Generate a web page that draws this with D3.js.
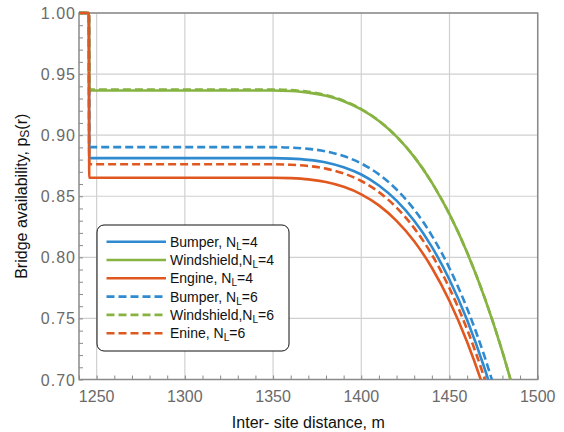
<!DOCTYPE html>
<html>
<head>
<meta charset="utf-8">
<script src="https://cdn.jsdelivr.net/npm/d3@7"></script>
<style>
body{margin:0;background:#fff}
svg{font-family:"Liberation Sans",Arial,sans-serif}
.tick-label{fill:#6a6a6a;font-size:16px}
.label{fill:#111;font-size:16px}
.leg{fill:#111;font-size:14px}
</style>
</head>
<body>
<svg id="chart"></svg>
<script>
//distances (m), the step sits just after 1245
var distance=[1240,1245.6,1245.8,1250,1300,1340,1350,1360,1370,1380,1390,1400,1410,1420,1430,1440,1450,1460,1470,1480,1490]
var bumper4=[1,1,0.8812,0.8812,0.8812,0.8812,0.8812,0.8808,0.8798,0.8777,0.8738,0.8678,0.8588,0.8464,0.8299,0.8086,0.7817,0.7487,0.7086,0.6608,null]
var windshield4=[1,1,0.9366,0.9366,0.9366,0.9366,0.9366,0.9361,0.9348,0.9322,0.9278,0.9211,0.9116,0.8988,0.8822,0.8612,0.8353,0.8039,0.7666,0.7227,0.6716]
var engine4=[1,1,0.8652,0.8652,0.8652,0.8652,0.8652,0.8648,0.8638,0.8616,0.8577,0.8516,0.8425,0.8299,0.8132,0.7915,0.7643,0.7307,0.6901,0.6416,null]
var bumper6=[1,1,0.8902,0.8902,0.8902,0.8902,0.8902,0.8898,0.8888,0.8867,0.8829,0.8768,0.8679,0.8555,0.8391,0.8178,0.7911,0.7581,0.7183,0.6706,null]
var windshield6=[1,1,0.9374,0.9374,0.9374,0.9374,0.9374,0.9369,0.9355,0.9328,0.9283,0.9214,0.9118,0.8989,0.8822,0.8612,0.8353,0.8039,0.7666,0.7227,0.6716]
var engine6=[1,1,0.8762,0.8762,0.8762,0.8762,0.8762,0.8758,0.8748,0.8726,0.8687,0.8625,0.8534,0.8407,0.8239,0.8022,0.7747,0.741,0.7002,0.6514,null]

var legendNames=["Bumper, ","Windshield,","Engine, ","Bumper, ","Windshield,","Enine, "]
var legendNL=["4","4","4","6","6","6"]
var xTicks=[1250,1300,1350,1400,1450,1500]
var yTicks=[0.70,0.75,0.80,0.85,0.90,0.95,1.00]

var blue="#2f8ad0", green="#86b341", orange="#e0581f"
var series=[
    {vals:bumper4,color:blue,dash:null},
    {vals:windshield4,color:green,dash:null},
    {vals:engine4,color:orange,dash:null},
    {vals:bumper6,color:blue,dash:"8,4"},
    {vals:windshield6,color:green,dash:"8,4"},
    {vals:engine6,color:orange,dash:"8,4"}
]

var screen={width:564,height:432}
var margins={left:79,right:26.3,top:13,bottom:52.5}
var graph={
    width:screen.width-margins.left-margins.right,
    height:screen.height-margins.top-margins.bottom
}

var svg=d3.select("#chart")
    .attr("width",screen.width)
    .attr("height",screen.height)

var xScale=d3.scaleLinear()
    .domain([1240,1500])
    .range([margins.left,margins.left+graph.width])
var yScale=d3.scaleLinear()
    .domain([0.70,1.00])
    .range([margins.top+graph.height,margins.top])

//grid
var grid=svg.append("g")
grid.selectAll(".gx")
    .data(xTicks)
    .enter()
    .append("line")
    .attr("x1",function(d){return xScale(d)})
    .attr("x2",function(d){return xScale(d)})
    .attr("y1",margins.top)
    .attr("y2",margins.top+graph.height)
    .attr("stroke","#d0d0d0")
    .attr("stroke-width",1.2)
grid.selectAll(".gy")
    .data(yTicks)
    .enter()
    .append("line")
    .attr("x1",margins.left)
    .attr("x2",margins.left+graph.width)
    .attr("y1",function(d){return yScale(d)})
    .attr("y2",function(d){return yScale(d)})
    .attr("stroke","#d0d0d0")
    .attr("stroke-width",1.2)

//axes with inward ticks
var xMinor=d3.range(1240,1501,10)
var yMinor=d3.range(70,101,1).map(function(d){return d/100})
var xAxis=d3.axisBottom(xScale).tickValues(xMinor).tickSize(-4).tickFormat("")
var yAxis=d3.axisLeft(yScale).tickValues(yMinor).tickSize(-4).tickFormat("")
var axes=svg.append("g")
axes.append("g")
    .attr("transform","translate(0,"+(margins.top+graph.height)+")")
    .call(xAxis)
axes.append("g")
    .attr("transform","translate("+margins.left+",0)")
    .call(yAxis)
axes.selectAll(".domain").remove()
axes.selectAll(".tick line").attr("stroke","#8a8a8a")

//frame
svg.append("rect")
    .attr("x",margins.left)
    .attr("y",margins.top)
    .attr("width",graph.width)
    .attr("height",graph.height)
    .attr("fill","none")
    .attr("stroke","#8a8a8a")
    .attr("stroke-width",1.5)

//tick labels
svg.append("g").selectAll("text")
    .data(xTicks)
    .enter()
    .append("text")
    .classed("tick-label",true)
    .attr("text-anchor","middle")
    .attr("x",function(d){return xScale(d)})
    .attr("y",margins.top+graph.height+22)
    .text(function(d){return d})
svg.append("g").selectAll("text")
    .data(yTicks)
    .enter()
    .append("text")
    .classed("tick-label",true)
    .attr("text-anchor","end")
    .attr("x",margins.left-3)
    .attr("y",function(d){return yScale(d)+6})
    .attr("letter-spacing",1)
    .text(function(d){return d.toFixed(2)})

//lines
svg.append("clipPath")
    .attr("id","clip")
    .append("rect")
    .attr("x",margins.left)
    .attr("y",margins.top-3)
    .attr("width",graph.width)
    .attr("height",graph.height+3)

var lineGenerator=d3.line()
    .defined(function(d){return d[1]!=null})
    .x(function(d){return xScale(d[0])})
    .y(function(d){return yScale(d[1])})
    .curve(d3.curveMonotoneX)

var lines=svg.append("g").attr("clip-path","url(#clip)")
series.forEach(function(s){
    var pts=distance.map(function(x,i){return [x,s.vals[i]]})
    lines.append("path")
        .datum(pts)
        .attr("d",lineGenerator)
        .attr("fill","none")
        .attr("stroke",s.color)
        .attr("stroke-width",2.6)
        .attr("stroke-dasharray",s.dash)
})

//axis labels
svg.append("text")
    .classed("label",true)
    .attr("text-anchor","middle")
    .attr("x",margins.left+graph.width/2)
    .attr("y",428)
    .text("Inter- site distance, m")
var ylab=svg.append("g")
    .attr("transform","translate(27,"+(margins.top+graph.height/2)+")")
    .append("text")
    .classed("label",true)
    .attr("text-anchor","middle")
    .attr("transform","rotate(-90)")
ylab.append("tspan").text("Bridge availability, p")
ylab.append("tspan").attr("font-size","12px").attr("dy",2).text("S")
ylab.append("tspan").attr("dy",-2).text("(r)")

//legend
var leg=svg.append("g")
leg.append("rect")
    .attr("x",97)
    .attr("y",225)
    .attr("width",192)
    .attr("height",126)
    .attr("rx",7)
    .attr("fill","#fff")
    .attr("stroke","#111")
    .attr("stroke-width",1)
var rows=leg.selectAll(".row")
    .data(series)
    .enter()
    .append("g")
    .attr("transform",function(d,i){return "translate(0,"+(241.7+i*18.3)+")"})
rows.append("line")
    .attr("x1",106.5)
    .attr("x2",166)
    .attr("stroke",function(d){return d.color})
    .attr("stroke-width",2.6)
    .attr("stroke-dasharray",function(d){return d.dash})
var txt=rows.append("text")
    .classed("leg",true)
    .attr("x",170)
    .attr("y",5)
txt.append("tspan").text(function(d,i){return legendNames[i]+"N"})
txt.append("tspan").attr("font-size","10px").attr("dy",3).text("L")
txt.append("tspan").attr("dy",-3).text(function(d,i){return "=" + legendNL[i]})
</script>
</body>
</html>
